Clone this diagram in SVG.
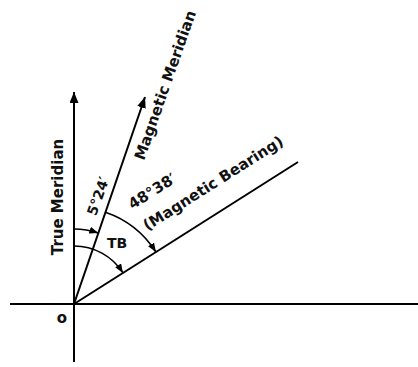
<svg xmlns="http://www.w3.org/2000/svg" width="418" height="367" viewBox="0 0 418 367">
<style>
.ln{stroke:#000;stroke-width:2;fill:none}
.arc{stroke:#000;stroke-width:1.6;fill:none}
text{font-family:"DejaVu Sans",Verdana,sans-serif;font-weight:bold;fill:#111}
</style>
<defs>
<marker id="ah" markerUnits="userSpaceOnUse" markerWidth="12" markerHeight="10" refX="11" refY="4.5" orient="auto">
<path d="M0,0 L11,4.5 L0,9 z" fill="#000"/>
</marker>
<marker id="sa" markerUnits="userSpaceOnUse" markerWidth="10" markerHeight="8" refX="9" refY="3.5" orient="auto">
<path d="M0,0 L9,3.5 L0,7 z" fill="#000"/>
</marker>
</defs>
<rect width="418" height="367" fill="#fff"/>
<g id="connectors">
<line class="ln" x1="10" y1="304" x2="418" y2="304"/>
<line class="ln" x1="74" y1="362" x2="74" y2="304"/>
<line id="true-meridian" class="ln" x1="74" y1="304" x2="74" y2="92" marker-end="url(#ah)"/>
<line id="magnetic-meridian" class="ln" x1="74" y1="304" x2="145" y2="97" marker-end="url(#ah)"/>
<line id="bearing-line" class="ln" x1="74" y1="304" x2="298" y2="162"/>
<path id="arc-declination" class="arc" d="M74,229 A75,75 0 0 1 98.3,233.05" marker-end="url(#sa)"/>
<path id="arc-tb" class="arc" d="M74,246 A58,58 0 0 1 122.97,272.92" marker-end="url(#sa)"/>
<path id="arc-mb" class="arc" d="M105.43,212.24 A97,97 0 0 1 155.9,252.03" marker-end="url(#sa)"/>
</g>
<g id="label-true-meridian"><text transform="translate(63,197) rotate(-90)" text-anchor="middle" font-size="15">True Meridian</text></g>
<g id="label-magnetic-meridian"><text transform="translate(165,85) rotate(-70.6)" y="5.4" text-anchor="middle" font-size="15">Magnetic Meridian</text></g>
<g id="label-declination"><text transform="translate(98,196) rotate(-70.6)" y="5" text-anchor="middle" font-size="14">5°24′</text></g>
<g id="label-tb"><text x="117" y="248" text-anchor="middle" font-size="14">TB</text></g>
<g id="label-angle"><text transform="translate(152,191) rotate(-32.4)" y="5.4" text-anchor="middle" font-size="15">48°38′</text></g>
<g id="label-bearing"><text transform="translate(213,183) rotate(-32.4)" y="5.4" text-anchor="middle" font-size="15">(Magnetic Bearing)</text></g>
<g id="label-origin"><text x="62" y="323" text-anchor="middle" font-size="15">o</text></g>
</svg>
